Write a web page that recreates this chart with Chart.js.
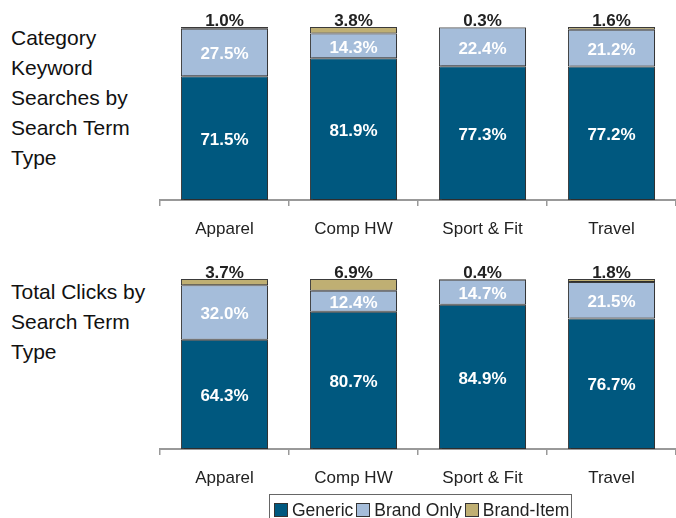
<!DOCTYPE html>
<html>
<head>
<meta charset="utf-8">
<script src="https://cdn.jsdelivr.net/npm/chart.js@4/dist/chart.umd.min.js"></script>
<style>
  html, body { margin: 0; padding: 0; background: #fff; }
  body { width: 676px; height: 518px; position: relative; overflow: hidden; font-family: "Liberation Sans", Arial, sans-serif; }
  .side { position: absolute; left: 11px; font-size: 21px; line-height: 30px; color: #111; }
  canvas { position: absolute; left: 0; }
  #legend { position: absolute; left: 269px; top: 494px; width: 303px; height: 40px; border: 1px solid #666; box-sizing: border-box;
            display: flex; align-items: flex-start; padding: 6px 0 0 4px; font-size: 17.5px; color: #222; white-space: nowrap; }
  .li { display: flex; align-items: center; margin-right: 3px; line-height: 18px; }
  .sw { width: 12px; height: 12px; border: 1px solid #333; margin-right: 4px; }
</style>
</head>
<body>
<div class="side" style="top:23px">Category<br>Keyword<br>Searches by<br>Search Term<br>Type</div>
<div class="side" style="top:277px">Total Clicks by<br>Search Term<br>Type</div>
<canvas id="c1" width="676" height="250" style="top:0"></canvas>
<canvas id="c2" width="676" height="250" style="top:250px"></canvas>
<div id="legend"></div>
<script>
const categories = ["Apparel", "Comp HW", "Sport & Fit", "Travel"];
const seriesNames = ["Generic", "Brand Only", "Brand-Item"];
const seriesColors = ["#00587F", "#A5BDDA", "#BFAF73"];

// Category Keyword Searches by Search Term Type
const searchGeneric   = [71.5, 81.9, 77.3, 77.2];
const searchBrandOnly = [27.5, 14.3, 22.4, 21.2];
const searchBrandItem = [1.0, 3.8, 0.3, 1.6];

// Total Clicks by Search Term Type
const clickGeneric   = [64.3, 80.7, 84.9, 76.7];
const clickBrandOnly = [32.0, 12.4, 14.7, 21.5];
const clickBrandItem = [3.7, 6.9, 0.4, 1.8];

const FONT = '"Liberation Sans", Arial, sans-serif';

const shadowPlugin = {
  id: 'barShadow',
  beforeDatasetsDraw(chart) {
    const ctx = chart.ctx;
    ctx.save();
    ctx.shadowColor = 'rgba(0,0,0,0.22)';
    ctx.shadowOffsetX = 2;
    ctx.shadowOffsetY = 1;
    ctx.shadowBlur = 0;
  },
  afterDatasetsDraw(chart) {
    chart.ctx.restore();
  }
};

const labelPlugin = {
  id: 'segLabels',
  afterDatasetsDraw(chart) {
    const ctx = chart.ctx;
    ctx.save();
    ctx.shadowColor = 'rgba(0,0,0,0)';
    ctx.font = 'bold 17px ' + FONT;
    ctx.textAlign = 'center';
    chart.data.datasets.forEach((ds, i) => {
      const meta = chart.getDatasetMeta(i);
      meta.data.forEach((bar, j) => {
        const txt = ds.data[j].toFixed(1) + '%';
        if (i < 2) {
          ctx.fillStyle = '#ffffff';
          ctx.textBaseline = 'middle';
          ctx.fillText(txt, bar.x, (bar.y + bar.base) / 2 + 2);
        } else {
          ctx.fillStyle = '#222222';
          ctx.textBaseline = 'alphabetic';
          ctx.fillText(txt, bar.x, bar.y - 1);
        }
      });
    });
    ctx.restore();
  }
};

function makeChart(id, values, padTop, axisH) {
  return new Chart(document.getElementById(id), {
    type: 'bar',
    data: {
      labels: categories,
      datasets: values.map((v, i) => ({
        label: seriesNames[i],
        data: v,
        backgroundColor: seriesColors[i],
        borderColor: '#3a3a3a',
        borderWidth: 1,
        borderSkipped: false,
        categoryPercentage: 1,
        barPercentage: 0.675
      }))
    },
    options: {
      responsive: false,
      animation: false,
      devicePixelRatio: 1,
      layout: { padding: { top: padTop, left: 160, right: 0, bottom: 0 } },
      plugins: { legend: { display: false }, tooltip: { enabled: false } },
      scales: {
        x: {
          stacked: true,
          afterFit: s => { s.height = axisH; },
          grid: { display: true, drawOnChartArea: false, drawTicks: true, tickLength: 6, color: '#999', lineWidth: 1.5, offset: true },
          border: { display: true, color: '#999', width: 2 },
          ticks: { color: '#222', font: { family: FONT, size: 17 }, padding: 13 }
        },
        y: { stacked: true, display: false, min: 0, max: 100 }
      }
    },
    plugins: [shadowPlugin, labelPlugin]
  });
}

makeChart('c1', [searchGeneric, searchBrandOnly, searchBrandItem], 27, 50);
makeChart('c2', [clickGeneric, clickBrandOnly, clickBrandItem], 29, 51);

const lg = document.getElementById('legend');
seriesNames.forEach((n, i) => {
  const d = document.createElement('div');
  d.className = 'li';
  const s = document.createElement('span');
  s.className = 'sw';
  s.style.background = seriesColors[i];
  const t = document.createElement('span');
  t.textContent = n;
  d.appendChild(s); d.appendChild(t);
  lg.appendChild(d);
});
</script>
</body>
</html>
